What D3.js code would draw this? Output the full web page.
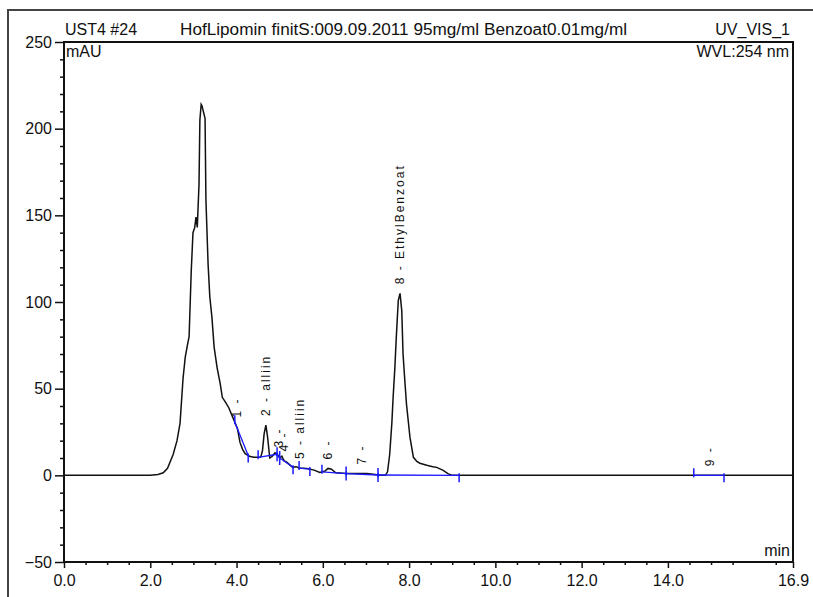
<!DOCTYPE html>
<html>
<head>
<meta charset="utf-8">
<script src="https://cdn.jsdelivr.net/npm/d3@7"></script>
<style>
  body { margin: 0; background: #fff; }
  text { font-family: "Liberation Sans", Arial, sans-serif; fill: #111; }
</style>
</head>
<body>
<div id="chart"></div>
<script>
// chromatogram trace, time (min) and signal (mAU)
var times = [0, 2.0, 2.18, 2.3, 2.4, 2.53, 2.62, 2.69, 2.76, 2.81, 2.86, 2.9, 2.95, 2.99, 3.03, 3.06, 3.09, 3.13, 3.15, 3.18,
  3.2, 3.23, 3.27, 3.29, 3.34, 3.38, 3.43, 3.48, 3.55, 3.62, 3.67, 3.75, 3.82, 3.92, 3.97, 4.02, 4.08, 4.14, 4.2, 4.3,
  4.4, 4.5, 4.56, 4.6, 4.64, 4.68, 4.72, 4.77, 4.83, 4.89, 4.95, 5.0, 5.05, 5.1, 5.17, 5.3, 5.38, 5.45, 5.63, 5.8,
  5.93, 6.05, 6.12, 6.2, 6.3, 6.56, 7.02, 7.17, 7.33, 7.45, 7.5, 7.55, 7.6, 7.63, 7.67, 7.7, 7.73, 7.75, 7.79, 7.83,
  7.86, 7.9, 7.94, 8.02, 8.1, 8.18, 8.25, 8.41, 8.55, 8.64, 8.79, 8.9, 9.0, 12.0, 16.9];
var values = [0, 0, 0.5, 1.5, 4, 12, 20, 30, 56, 68, 75, 80, 118, 140, 143, 149, 143, 168, 205, 214,
  213, 210, 206, 159, 122, 103, 91, 74, 62, 53, 45, 42, 39, 33, 30, 27, 19, 15, 12.5, 11,
  10.5, 10.4, 10.5, 14, 24, 29, 22, 10, 11, 13, 12, 10, 11, 8.5, 7.5, 4.6, 5, 4.2, 4, 3,
  1.7, 2.5, 4, 3.5, 1.5, 1, 1, 0.6, 0, 0, 2, 12, 30, 45, 62, 78, 92, 101, 105, 95,
  70, 55, 41, 22, 10.4, 8, 7, 5.8, 5, 4.6, 2.9, 1, 0, 0, 0];

// integrated peaks
var peakNames = ["1 -", "2 - alliin", "3 -", "4 -", "5 - alliin", "6 -", "7 -", "8 - EthylBenzoat", "9 -"];
var peakTimes = [4.0, 4.68, 4.98, 5.1, 5.47, 6.12, 6.9, 7.79, 14.97];
var peakStarts = [3.96, 4.5, 4.94, 5.0, 5.45, 5.98, 6.54, 7.28, 14.6];
var peakEnds = [4.27, 4.94, 5.0, 5.31, 5.7, 6.54, 7.28, 9.16, 15.3];

var yMajor = [-50, 0, 50, 100, 150, 200, 250];
var xMajor = [0, 2, 4, 6, 8, 10, 12, 14, 16.9];

var W = 813, H = 597;
var svg = d3.select("#chart").append("svg")
  .attr("width", W).attr("height", H);

var x = d3.scaleLinear().domain([0, 16.9]).range([64, 793]);
var y = d3.scaleLinear().domain([-50, 250]).range([562, 42]);

var signal = d3.zip(times, values);
var valueAt = function(t) {
  var i = d3.bisectLeft(times, t);
  if (i <= 0) return values[0];
  if (i >= times.length) return values[values.length - 1];
  var a = i - 1, f = (t - times[a]) / (times[i] - times[a]);
  return values[a] + f * (values[i] - values[a]);
};

// outer frame
svg.append("path")
  .attr("d", "M8," + H + "V10H" + W)
  .attr("fill", "none").attr("stroke", "#444").attr("stroke-width", 2);

// minor ticks
var yMinor = d3.range(-50, 251, 10).filter(function(d) { return yMajor.indexOf(d) < 0; });
svg.append("g").attr("transform", "translate(64,0)")
  .call(d3.axisLeft(y).tickValues(yMinor).tickSize(4).tickSizeOuter(0).tickFormat(""))
  .call(function(g) { g.select(".domain").remove(); })
  .selectAll("line").attr("stroke", "#111").attr("stroke-width", 1.5);

var xMinor = d3.range(0.5, 16.9, 0.5).filter(function(d) { return d % 2 != 0; });
svg.append("g").attr("transform", "translate(0,562)")
  .call(d3.axisBottom(x).tickValues(xMinor).tickSize(3).tickSizeOuter(0).tickFormat(""))
  .call(function(g) { g.select(".domain").remove(); })
  .selectAll("line").attr("stroke", "#111").attr("stroke-width", 1.5);

// major ticks + labels
var yAxis = svg.append("g").attr("transform", "translate(64,0)")
  .call(d3.axisLeft(y).tickValues(yMajor).tickSize(9).tickPadding(3).tickSizeOuter(0));
yAxis.select(".domain").remove();
yAxis.selectAll("line").attr("stroke", "#111").attr("stroke-width", 1.5);
yAxis.selectAll("text").attr("font-size", 16).attr("fill", "#111")
  .style("font-family", "'Liberation Sans', Arial, sans-serif");

var xAxis = svg.append("g").attr("transform", "translate(0,562)")
  .call(d3.axisBottom(x).tickValues(xMajor).tickSize(6).tickPadding(7).tickSizeOuter(0)
    .tickFormat(d3.format(".1f")));
xAxis.select(".domain").remove();
xAxis.selectAll("line").attr("stroke", "#111").attr("stroke-width", 1.5);
xAxis.selectAll("text").attr("font-size", 16).attr("fill", "#111")
  .style("font-family", "'Liberation Sans', Arial, sans-serif");

// plot frame
svg.append("rect")
  .attr("x", x(0)).attr("y", y(250))
  .attr("width", x(16.9) - x(0)).attr("height", y(-50) - y(250))
  .attr("fill", "none").attr("stroke", "#111").attr("stroke-width", 2);

// trace
svg.append("path")
  .datum(signal)
  .attr("fill", "none").attr("stroke", "#111").attr("stroke-width", 1.5)
  .attr("d", d3.line().x(function(d) { return x(d[0]); }).y(function(d) { return y(d[1]); }));

// integration baselines and delimiters
var peaks = peakNames.map(function(n, i) {
  return { name: n, rt: peakTimes[i], start: peakStarts[i], end: peakEnds[i] };
});
svg.selectAll(".base").data(peaks).enter().append("line")
  .attr("x1", function(d) { return x(d.start); })
  .attr("y1", function(d) { return y(valueAt(d.start)); })
  .attr("x2", function(d) { return x(d.end); })
  .attr("y2", function(d) { return y(valueAt(d.end)); })
  .attr("stroke", "#1a1aff").attr("stroke-width", 1.3);
svg.selectAll(".tstart").data(peaks).enter().append("line")
  .attr("x1", function(d) { return x(d.start); }).attr("x2", function(d) { return x(d.start); })
  .attr("y1", function(d) { return y(valueAt(d.start)) - 7; })
  .attr("y2", function(d) { return y(valueAt(d.start)) + 2; })
  .attr("stroke", "#1a1aff").attr("stroke-width", 1.5);
svg.selectAll(".tend").data(peaks).enter().append("line")
  .attr("x1", function(d) { return x(d.end); }).attr("x2", function(d) { return x(d.end); })
  .attr("y1", function(d) { return y(valueAt(d.end)) - 2; })
  .attr("y2", function(d) { return y(valueAt(d.end)) + 7; })
  .attr("stroke", "#1a1aff").attr("stroke-width", 1.5);

// peak labels
svg.selectAll(".plabel").data(peaks).enter().append("text")
  .attr("transform", function(d) {
    var py = Math.min(y(valueAt(d.rt)), y(0)) - 9;
    return "translate(" + x(d.rt) + "," + py + ") rotate(-90)";
  })
  .attr("dy", "0.35em")
  .attr("font-size", 12)
  .attr("letter-spacing", "2px")
  .text(function(d) { return d.name; });

// header texts
svg.append("text").attr("x", 65).attr("y", 35).attr("font-size", 16).text("UST4 #24");
svg.append("text").attr("x", 180).attr("y", 35).attr("font-size", 16)
  .attr("textLength", 447).attr("lengthAdjust", "spacingAndGlyphs")
  .text("HofLipomin finitS:009.09.2011 95mg/ml Benzoat0.01mg/ml");
svg.append("text").attr("x", 790).attr("y", 35).attr("font-size", 16)
  .attr("text-anchor", "end").text("UV_VIS_1");
svg.append("text").attr("x", 66).attr("y", 57).attr("font-size", 16).text("mAU");
svg.append("text").attr("x", 789).attr("y", 57).attr("font-size", 16)
  .attr("text-anchor", "end").text("WVL:254 nm");
svg.append("text").attr("x", 790).attr("y", 556).attr("font-size", 16)
  .attr("text-anchor", "end").text("min");
</script>
</body>
</html>
